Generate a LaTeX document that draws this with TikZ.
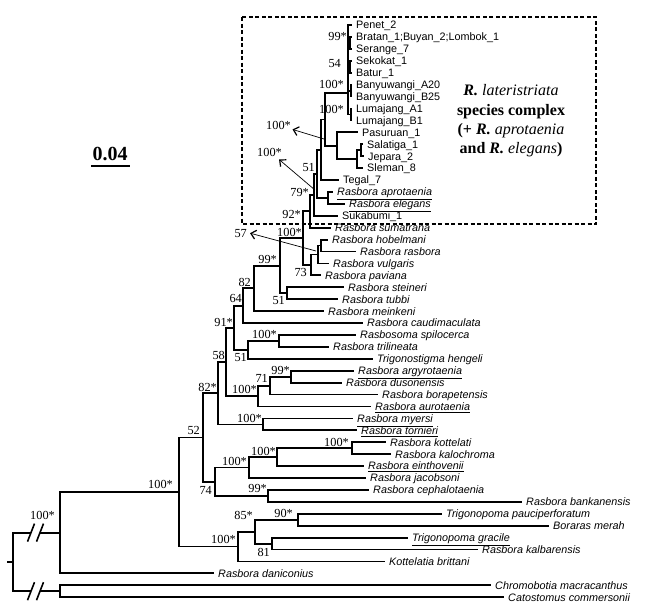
\documentclass[tikz,border=0pt]{standalone}
\usepackage{fontspec}
\setmainfont{Liberation Serif}
\setsansfont{Liberation Sans}
\usetikzlibrary{arrows.meta}
\newcommand\tipfont{\fontsize{10.8}{12}\selectfont\sffamily}
\newcommand\supfont{\fontsize{12.3}{13}\selectfont\rmfamily}
\newcommand\tx[4]{\coordinate (#1) at (#2,#3);\node[tl] (#1l) at (#1) {\itshape #4};}
\newcommand\tq[4]{\coordinate (#1) at (#2,#3);\node[tl] (#1l) at (#1) {#4};}
\newcommand\nd[3]{\coordinate (#1) at (#2,#3);}
\newcommand\supl[4]{\node[sl] (#1) at (#2,#3) {#4};}
\newcommand\kids[2]{\foreach \ch in {#2}{\draw[br] (#1) |- (\ch);}}
\begin{document}
\begin{tikzpicture}[x=1pt,y=-1pt,
  br/.style={line width=1.8pt},
  brk/.style={line width=1.6pt},
  tl/.style={anchor=base west, inner sep=0pt, font=\tipfont, xshift=4pt, yshift=-3.9pt},
  sl/.style={anchor=base east, inner sep=0pt, font=\supfont, yshift=-4.1pt},
  arr/.style={line width=0.7pt, -{Straight Barb[length=5pt,width=9pt,line width=1.2pt]}},
  dashbox/.style={line width=1.2pt, dash pattern=on 4pt off 2.5pt}]
\useasboundingbox (0,0) rectangle (652,611);
% ---- tips ----
\tq{penet}{352}{25.0}{Penet\_2}
\tq{bratan}{352}{36.9}{Bratan\_1;Buyan\_2;Lombok\_1}
\tq{serange}{352}{48.8}{Serange\_7}
\tq{sekokat}{352}{60.8}{Sekokat\_1}
\tq{batur}{352}{72.7}{Batur\_1}
\tq{banya}{352}{84.6}{Banyuwangi\_A20}
\tq{banyb}{352}{96.5}{Banyuwangi\_B25}
\tq{luma}{352}{108.4}{Lumajang\_A1}
\tq{lumb}{352}{120.4}{Lumajang\_B1}
\tq{pasur}{358}{132.3}{Pasuruan\_1}
\tq{salat}{363}{144.2}{Salatiga\_1}
\tq{jepara}{364}{156.1}{Jepara\_2}
\tq{sleman}{363}{168.0}{Sleman\_8}
\tq{tegal}{339}{180.0}{Tegal\_7}
\tx{aprot}{333}{191.9}{\underline{Rasbora aprotaenia}}
\tx{eleg}{345}{203.8}{\underline{Rasbora elegans}}
\tq{sukab}{338}{215.7}{Sukabumi\_1}
\tx{sumat}{331}{227.6}{Rasbora sumatrana}
\tx{hobel}{328}{239.6}{Rasbora hobelmani}
\tx{rasb}{356}{251.5}{Rasbora rasbora}
\tx{vulg}{329}{263.4}{Rasbora vulgaris}
\tx{pavi}{321}{275.3}{Rasbora paviana}
\tx{stein}{344}{287.2}{Rasbora steineri}
\tx{tubbi}{338}{299.2}{Rasbora tubbi}
\tx{meink}{324}{311.1}{Rasbora meinkeni}
\tx{caudi}{363}{323.0}{Rasbora caudimaculata}
\tx{spilo}{356}{334.9}{Rasbosoma spilocerca}
\tx{trili}{329}{346.8}{Rasbora trilineata}
\tx{hengeli}{373}{358.8}{Trigonostigma hengeli}
\tx{argyro}{354}{370.7}{\underline{Rasbora argyrotaenia}}
\tx{duson}{342}{382.6}{Rasbora dusonensis}
\tx{borap}{378}{394.5}{Rasbora borapetensis}
\tx{aurot}{371}{406.4}{\underline{Rasbora aurotaenia}}
\tx{myersi}{353}{418.4}{\underline{Rasbora myersi}}
\tx{tornieri}{357}{430.3}{\underline{Rasbora tornieri}}
\tx{kottel}{386}{442.2}{Rasbora kottelati}
\tx{kaloch}{391}{454.1}{Rasbora kalochroma}
\tx{einth}{364}{466.0}{\underline{Rasbora einthovenii}}
\tx{jacob}{366}{478.0}{Rasbora jacobsoni}
\tx{cephal}{369}{489.9}{Rasbora cephalotaenia}
\tx{bankan}{522}{501.8}{Rasbora bankanensis}
\tx{pauci}{442}{513.7}{Trigonopoma pauciperforatum}
\tx{merah}{549}{525.6}{Boraras merah}
\tx{gracile}{408}{537.6}{\underline{Trigonopoma gracile}}
\tx{kalbar}{478}{549.5}{Rasbora kalbarensis}
\tx{kottb}{385}{561.4}{Kottelatia brittani}
\tx{danic}{214}{573.3}{Rasbora daniconius}
\tx{chromo}{491}{585.2}{Chromobotia macracanthus}
\tx{catos}{504}{597.1}{Catostomus commersonii}
% ---- internal nodes ----
\nd{t99}{350}{42.9}
\nd{t54}{350}{66.8}
\nd{tbany}{351}{90.6}
\nd{tlum}{351}{114.4}
\nd{top9}{348}{93}
\nd{nsj}{361}{150.2}
\nd{nsjs}{357}{159.1}
\nd{nps}{337}{145.7}
\nd{nlat}{325}{119.4}
\nd{n51}{321}{149.7}
\nd{nae}{328}{197.9}
\nd{n79}{317}{173.8}
\nd{nsuk}{314}{194.8}
\nd{n92}{310}{211.2}
\nd{nhr}{321}{245.5}
\nd{nhrv}{318}{254.5}
\nd{n73}{311}{264.9}
\nd{n100}{303}{238.0}
\nd{n51s}{287}{293.2}
\nd{n99}{280}{265.6}
\nd{n82}{254}{288.3}
\nd{n64}{243}{305.7}
\nd{nsp}{279}{340.9}
\nd{n51l}{248}{349.8}
\nd{n91}{234}{327.8}
\nd{n99a}{291}{376.7}
\nd{n71}{270}{385.6}
\nd{n100a}{258}{396.0}
\nd{n58}{226}{361.9}
\nd{n100m}{263}{424.4}
\nd{n82s}{218}{393.1}
\nd{n100k}{352}{448.2}
\nd{n100e}{277}{457.1}
\nd{n100j}{249}{467.5}
\nd{n99c}{268}{495.9}
\nd{n74}{215}{481.7}
\nd{n52}{203}{437.4}
\nd{n90}{298}{519.7}
\nd{n81}{272}{543.6}
\nd{n85}{255}{531.6}
\nd{n100t}{238}{546.5}
\nd{n100b}{179}{492.0}
\nd{nin}{60}{532.6}
\nd{nout}{60}{591.2}
\nd{root}{13}{561.9}
\nd{rs}{7}{561.9}
\nd{bk1}{31}{532.6}
\nd{bk2}{40}{532.6}
\nd{bk3}{31}{591.2}
\nd{bk4}{40}{591.2}
% ---- branches ----
\kids{t99}{bratan,serange}
\kids{t54}{sekokat,batur}
\kids{tbany}{banya,banyb}
\kids{tlum}{luma,lumb}
\kids{top9}{penet,t99,t54,tbany,tlum}
\kids{nsj}{salat,jepara}
\kids{nsjs}{nsj,sleman}
\kids{nps}{pasur,nsjs}
\kids{nlat}{top9,nps}
\kids{n51}{nlat,tegal}
\kids{nae}{aprot,eleg}
\kids{n79}{n51,nae}
\kids{nsuk}{n79,sukab}
\kids{n92}{nsuk,sumat}
\kids{nhr}{hobel,rasb}
\kids{nhrv}{nhr,vulg}
\kids{n73}{nhrv,pavi}
\kids{n100}{n92,n73}
\kids{n51s}{stein,tubbi}
\kids{n99}{n100,n51s}
\kids{n82}{n99,meink}
\kids{n64}{n82,caudi}
\kids{nsp}{spilo,trili}
\kids{n51l}{nsp,hengeli}
\kids{n91}{n64,n51l}
\kids{n99a}{argyro,duson}
\kids{n71}{n99a,borap}
\kids{n100a}{n71,aurot}
\kids{n58}{n91,n100a}
\kids{n100m}{myersi,tornieri}
\kids{n82s}{n58,n100m}
\kids{n100k}{kottel,kaloch}
\kids{n100e}{n100k,einth}
\kids{n100j}{n100e,jacob}
\kids{n99c}{cephal,bankan}
\kids{n74}{n100j,n99c}
\kids{n52}{n82s,n74}
\kids{n90}{pauci,merah}
\kids{n81}{gracile,kalbar}
\kids{n85}{n90,n81}
\kids{n100t}{n85,kottb}
\kids{n100b}{n52,n100t}
\kids{nin}{n100b,danic}
\kids{nout}{chromo,catos}
\draw[br] (root) |- (bk1);
\draw[br] (bk2) -- (nin);
\draw[br] (root) |- (bk3);
\draw[br] (bk4) -- (nout);
\draw[br] (rs) -- (root);
\foreach \b in {bk1,bk2,bk3,bk4}{
  \draw[brk] ([xshift=-3.5pt,yshift=-9pt]\b) -- ([xshift=3.5pt,yshift=9pt]\b);}
% ---- support values ----
\supl{s99t}{347}{36}{99*}
\supl{s54}{341}{63}{54}
\supl{s100bany}{344}{84}{100*}
\supl{s100lum}{344}{109}{100*}
\supl{s51c}{315}{167}{51}
\supl{s79}{309}{192}{79*}
\supl{s92}{301}{214}{92*}
\supl{s100n}{302}{232}{100*}
\supl{s99}{277}{259}{99*}
\supl{s73}{307}{272}{73}
\supl{s82}{251}{282}{82}
\supl{s51s}{285}{300}{51}
\supl{s64}{242}{298}{64}
\supl{s91}{233}{322}{91*}
\supl{s100sp}{277}{334}{100*}
\supl{s51l}{247}{357}{51}
\supl{s58}{225}{355}{58}
\supl{s99a}{290}{370}{99*}
\supl{s71}{268}{378}{71}
\supl{s100a}{257}{389}{100*}
\supl{s82s}{217}{387}{82*}
\supl{s100m}{262}{418}{100*}
\supl{s52}{200}{430}{52}
\supl{s100k}{349}{442}{100*}
\supl{s100e}{276}{451}{100*}
\supl{s100j}{247}{461}{100*}
\supl{s74}{212}{490}{74}
\supl{s99c}{267}{488}{99*}
\supl{s100b}{173}{484}{100*}
\supl{s90}{293}{513}{90*}
\supl{s85}{253}{515}{85*}
\supl{s81}{270}{552}{81}
\supl{s100t}{236}{539}{100*}
\supl{s100r}{55}{515}{100*}
% ---- arrows to displaced labels ----
\supl{arl1}{291}{125}{100*}
\supl{arl2}{282}{152}{100*}
\supl{arl3}{247}{233}{57}
\coordinate (a1s) at (324,139);
\coordinate (a2s) at (315,190);
\coordinate (a3s) at (316,251);
\draw[arr] (a1s) -- ([xshift=1.5pt]arl1.south east);
\draw[arr] (a2s) -- ([xshift=-3pt,yshift=-3pt]arl2.south east);
\draw[arr] (a3s) -- ([xshift=3pt]arl3.east);
% ---- dashed box and title ----
\draw[dashbox] (242,17) rectangle (596,224);
\node[font=\fontsize{16}{19.3}\selectfont\bfseries, align=center, inner sep=0pt] (title) at (511,121)
  {\textit{R. \mdseries lateristriata}\\species complex\\(+ \textit{R. \mdseries aprotaenia}\\and \textit{R. \mdseries elegans})};
% ---- scale bar ----
\node[font=\fontsize{20}{22}\selectfont\bfseries, anchor=base, inner sep=0pt] (scl) at (110,160) {0.04};
\coordinate (sb1) at (91,166);
\coordinate (sb2) at (130,166);
\draw[line width=2.5pt] (sb1) -- (sb2);
\end{tikzpicture}
\end{document}
